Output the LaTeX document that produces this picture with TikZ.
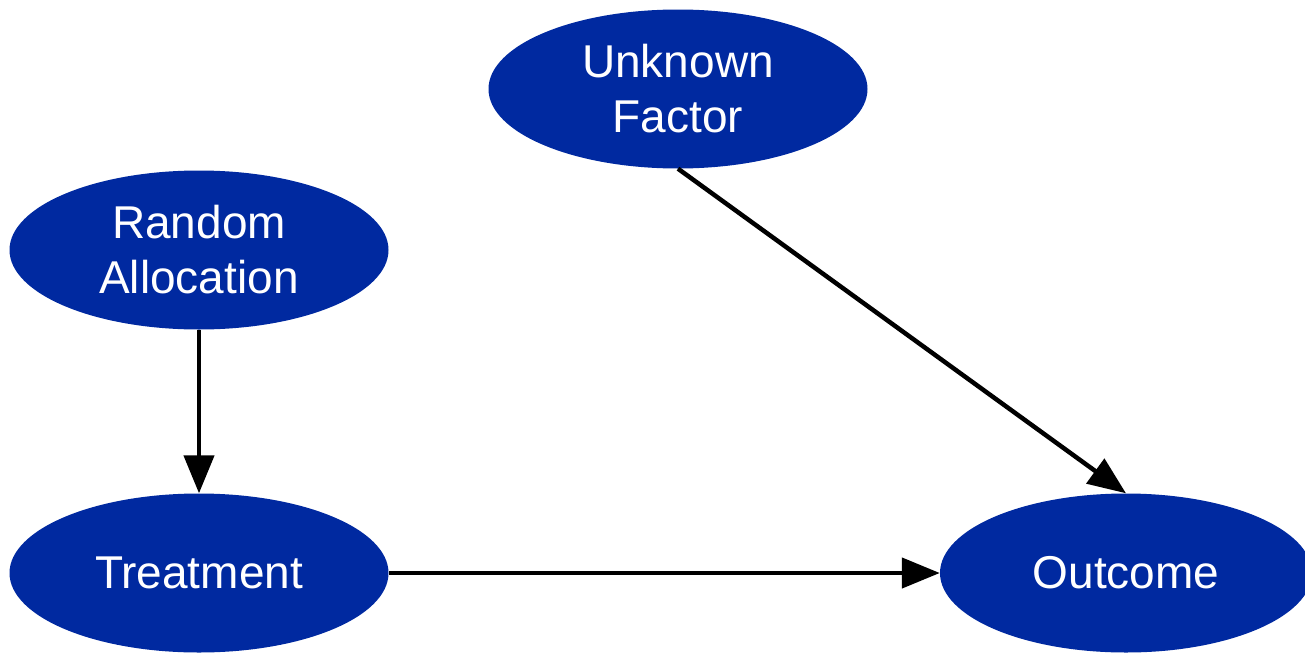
\documentclass[tikz,border=0pt]{standalone}
\usepackage{fontspec}
\setmainfont{Liberation Sans}
\usetikzlibrary{shapes.geometric,arrows.meta}
\definecolor{nodeblue}{RGB}{0,41,160}
\begin{document}
\begin{tikzpicture}[x=1pt,y=-1pt,
  var/.style={ellipse, fill=nodeblue, draw=none, text=white, inner sep=0pt,
    minimum width=379pt, minimum height=159pt, align=center,
    font=\fontsize{46}{55}\selectfont},
  link/.style={line width=4.5pt, -{Triangle[length=38pt,width=30pt]}}]
  \useasboundingbox (0,0) rectangle (1305,653);
  \clip (0,0) rectangle (1305,653);
  \node[var] (uf)  at (678,89)   {Unknown\\Factor};
  \node[var] (ra)  at (199,250)  {Random\\Allocation};
  \node[var] (tr)  at (199,573)  {Treatment};
  \node[var, minimum width=372pt] (out) at (1126,573) {Outcome};
  \draw[link] (ra.south) -- (tr.north);
  \draw[link] (tr.east) -- (out.west);
  \draw[link] (uf.south) -- (out.north);
\end{tikzpicture}
\end{document}
